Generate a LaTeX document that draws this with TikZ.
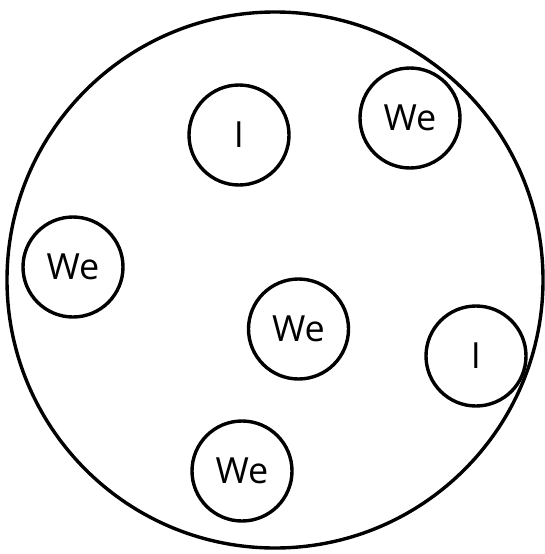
\documentclass[tikz,border=0pt]{standalone}
\usepackage{fontspec}
\setmainfont{Open Sans}
\begin{document}
\begin{tikzpicture}[x=1pt,y=-1pt,
  outer/.style={draw=black,line width=3.4pt,circle,minimum size=536pt,inner sep=0pt},
  member/.style={draw=black,line width=3.4pt,circle,minimum size=100pt,inner sep=0pt,font=\fontsize{36}{40}\selectfont}]
\useasboundingbox (0,0) rectangle (545,554);
\node[outer] (world) at (275,280) {};
\node[member] (i1) at (239,135) {I};
\node[member] (we1) at (410,118) {We};
\node[member] (we2) at (73,267) {We};
\node[member] (we3) at (298.5,329) {We};
\node[member] (i2) at (476,356) {I};
\node[member] (we4) at (242,471) {We};
\end{tikzpicture}
\end{document}
